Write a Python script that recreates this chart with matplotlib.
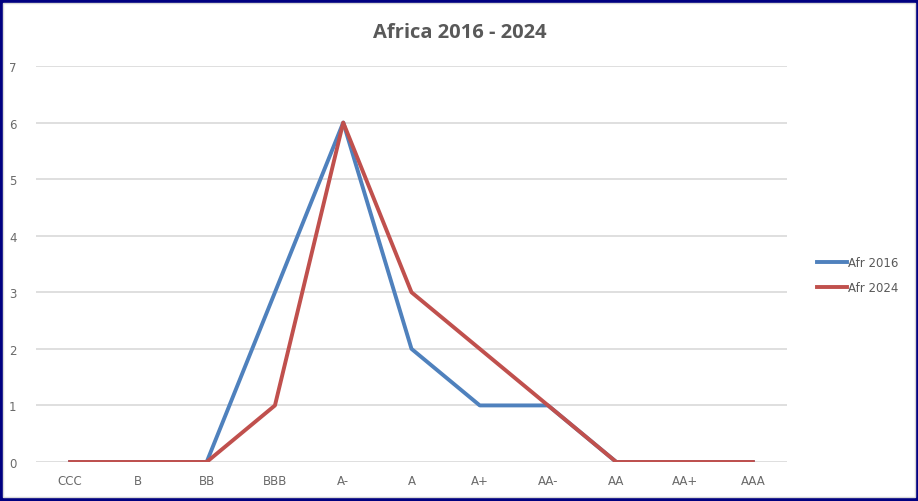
import matplotlib.pyplot as plt
from matplotlib.patches import Rectangle

# rating buckets and number of countries per bucket
ratings = ['CCC', 'B', 'BB', 'BBB', 'A-', 'A', 'A+', 'AA-', 'AA', 'AA+', 'AAA']
afr_2016 = [0, 0, 0, 3, 6, 2, 1, 1, 0, 0, 0]
afr_2024 = [0, 0, 0, 1, 6, 3, 2, 1, 0, 0, 0]

W, H = 918, 502
fig = plt.figure(figsize=(W / 100, H / 100), dpi=100)
fig.patch.set_facecolor('#000080')

# white chart panel inside the navy frame
fig.patches.append(Rectangle((3 / W, 4 / H), (W - 6) / W, (H - 8) / H,
                             transform=fig.transFigure, facecolor='white',
                             edgecolor='#d9d9d9', linewidth=1, zorder=-5))

ax = fig.add_axes([36 / W, (H - 463) / H, (787 - 36) / W, (463 - 67) / H])
ax.set_facecolor('none')
ax.set_zorder(2)

x = range(len(ratings))
ax.plot(x, afr_2016, color='#4F81BD', linewidth=2.8, label='Afr 2016', zorder=3)
ax.plot(x, afr_2024, color='#C0504D', linewidth=2.8, label='Afr 2024', zorder=4)

ax.set_xlim(-0.5, len(ratings) - 0.5)
ax.set_ylim(0, 7)
ax.set_yticks(range(0, 8))
ax.set_xticks(list(x))
ax.set_xticklabels(ratings)
ax.tick_params(axis='both', length=0, colors='#6a6a6a', labelsize=8.5)
ax.tick_params(axis='x', pad=9)
ax.tick_params(axis='y', pad=14)
ax.grid(axis='y', color='#d9d9d9', linewidth=1.2)
for s in ax.spines.values():
    s.set_visible(False)

fig.text(460 / W, 1 - 33 / H, 'Africa 2016 - 2024', ha='center', va='center',
         fontsize=14.5, fontweight='bold', color='#595959', family='Open Sans')

leg = fig.legend(loc='center left', bbox_to_anchor=(806 / W, 1 - 276 / H),
                 frameon=False, fontsize=8.5, labelcolor='#595959',
                 handlelength=2.6, handletextpad=0.1, labelspacing=1.0)
leg.set_zorder(3)

plt.savefig('out.png', dpi=100, facecolor=fig.get_facecolor())
